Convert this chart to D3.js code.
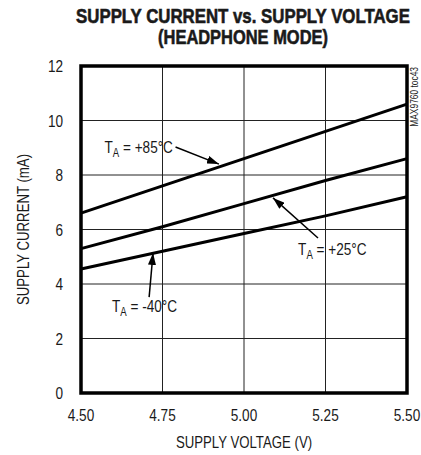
<html>
<head>
    <style>
        body { margin: 0; background: #fff; }
        text { font-family: "Liberation Sans Narrow", "Liberation Sans", Arial, sans-serif; fill: #1a1a1a; }
    </style>
    <script src="https://d3js.org/d3.v7.min.js"></script>
</head>
<body>
<svg id="chart"></svg>
<script>
    // data
    var voltages = [4.50, 4.75, 5.00, 5.25, 5.50];
    var current85 = [6.6, 7.6, 8.6, 9.6, 10.6];
    var current25 = [5.3, 6.1, 6.95, 7.8, 8.6];
    var currentM40 = [4.55, 5.2, 5.85, 6.5, 7.2];
    var xTicks = [4.50, 4.75, 5.00, 5.25, 5.50];
    var yTicks = [0, 2, 4, 6, 8, 10, 12];
    var labels = ["+85°C", "+25°C", "-40°C"];
    // label anchor, arrow tail, arrow tip (voltage, current)
    var labelPos = [[4.782, 8.82], [5.166, 5.06], [4.595, 2.98]];
    var arrowTail = [[4.79, 9.03], [5.227, 5.69], [4.709, 3.52]];
    var arrowTip = [[4.923, 8.40], [5.089, 7.16], [4.721, 5.14]];
    var labelAnchor = ["end", "start", "start"];
    var titleLines = ["SUPPLY CURRENT vs. SUPPLY VOLTAGE", "(HEADPHONE MODE)"];

    var W = 421, H = 455;
    var margin = {top: 66, right: 14, bottom: 62, left: 81};
    var SQ = 0.8; // horizontal squeeze, no condensed font installed

    var svg = d3.select("#chart").attr("width", W).attr("height", H);

    var x = d3.scaleLinear().domain([4.5, 5.5]).range([margin.left, W - margin.right]);
    var y = d3.scaleLinear().domain([0, 12]).range([H - margin.bottom, margin.top]);

    function at(px, py, rot, sq) {
        return "translate(" + px + "," + py + ")" + (rot ? " rotate(" + rot + ")" : "") + " scale(" + (sq || SQ) + ",1)";
    }

    // title, squeezed to the widths in the reference
    var titleWidth = [334, 170];
    titleLines.forEach(function (s, i) {
        var t = svg.append("text").attr("text-anchor", "middle")
            .attr("font-weight", "bold").attr("font-size", 20)
            .attr("stroke", "#1a1a1a").attr("stroke-width", 0.6)
            .text(s);
        var w = t.node().getComputedTextLength();
        t.attr("transform", at(243, 23 + i * 21, 0, titleWidth[i] / w));
    });

    // grid
    svg.append("g").selectAll("line").data(xTicks.slice(1, -1)).join("line")
        .attr("x1", d => x(d)).attr("x2", d => x(d))
        .attr("y1", y(0)).attr("y2", y(12))
        .attr("stroke", "#222").attr("stroke-width", 1);
    svg.append("g").selectAll("line").data(yTicks.slice(1, -1)).join("line")
        .attr("x1", x(4.5)).attr("x2", x(5.5))
        .attr("y1", d => y(d)).attr("y2", d => y(d))
        .attr("stroke", "#222").attr("stroke-width", 1);

    // tick labels
    svg.append("g").selectAll("text").data(xTicks).join("text")
        .attr("transform", d => at(x(d), y(0) + 28))
        .attr("text-anchor", "middle").attr("font-size", 17)
        .text(d => d.toFixed(2));
    svg.append("g").selectAll("text").data(yTicks).join("text")
        .attr("transform", d => at(x(4.5) - 18, y(d) + 6))
        .attr("text-anchor", "end").attr("font-size", 17)
        .text(d => d);

    // axis titles
    svg.append("text").attr("transform", at(x(5), 448))
        .attr("text-anchor", "middle").attr("font-size", 16.5).text("SUPPLY VOLTAGE (V)");
    svg.append("text").attr("transform", at(29, y(6), -90))
        .attr("text-anchor", "middle").attr("font-size", 16.5).text("SUPPLY CURRENT (mA)");

    svg.append("text").attr("transform", at(418, 67, -90))
        .attr("text-anchor", "end").attr("font-size", 10.5).text("MAX9760 toc43");

    // data lines
    var line = d3.line().x((d, i) => x(voltages[i])).y(d => y(d));
    svg.append("g").selectAll("path").data([current85, current25, currentM40]).join("path")
        .attr("d", line).attr("fill", "none").attr("stroke", "#000").attr("stroke-width", 3);

    // frame
    svg.append("rect").attr("x", x(4.5)).attr("y", y(12))
        .attr("width", x(5.5) - x(4.5)).attr("height", y(0) - y(12))
        .attr("fill", "none").attr("stroke", "#000").attr("stroke-width", 3.5);

    // annotations
    svg.append("defs").append("marker").attr("id", "arrow")
        .attr("viewBox", "0 0 12 8").attr("refX", 12).attr("refY", 4)
        .attr("markerWidth", 12).attr("markerHeight", 8)
        .attr("markerUnits", "userSpaceOnUse").attr("orient", "auto")
        .append("path").attr("d", "M0,0L12,4L0,8Z").attr("fill", "#000");

    labels.forEach(function (lab, i) {
        svg.append("line")
            .attr("x1", x(arrowTail[i][0])).attr("y1", y(arrowTail[i][1]))
            .attr("x2", x(arrowTip[i][0])).attr("y2", y(arrowTip[i][1]))
            .attr("stroke", "#000").attr("stroke-width", 1.5)
            .attr("marker-end", "url(#arrow)");
        var t = svg.append("text")
            .attr("transform", at(x(labelPos[i][0]), y(labelPos[i][1])))
            .attr("text-anchor", labelAnchor[i]).attr("font-size", 17);
        t.append("tspan").text("T");
        t.append("tspan").attr("font-size", 12).attr("dy", 4).text("A");
        t.append("tspan").attr("dy", -4).text(" = " + lab);
    });
</script>
</body>
</html>
